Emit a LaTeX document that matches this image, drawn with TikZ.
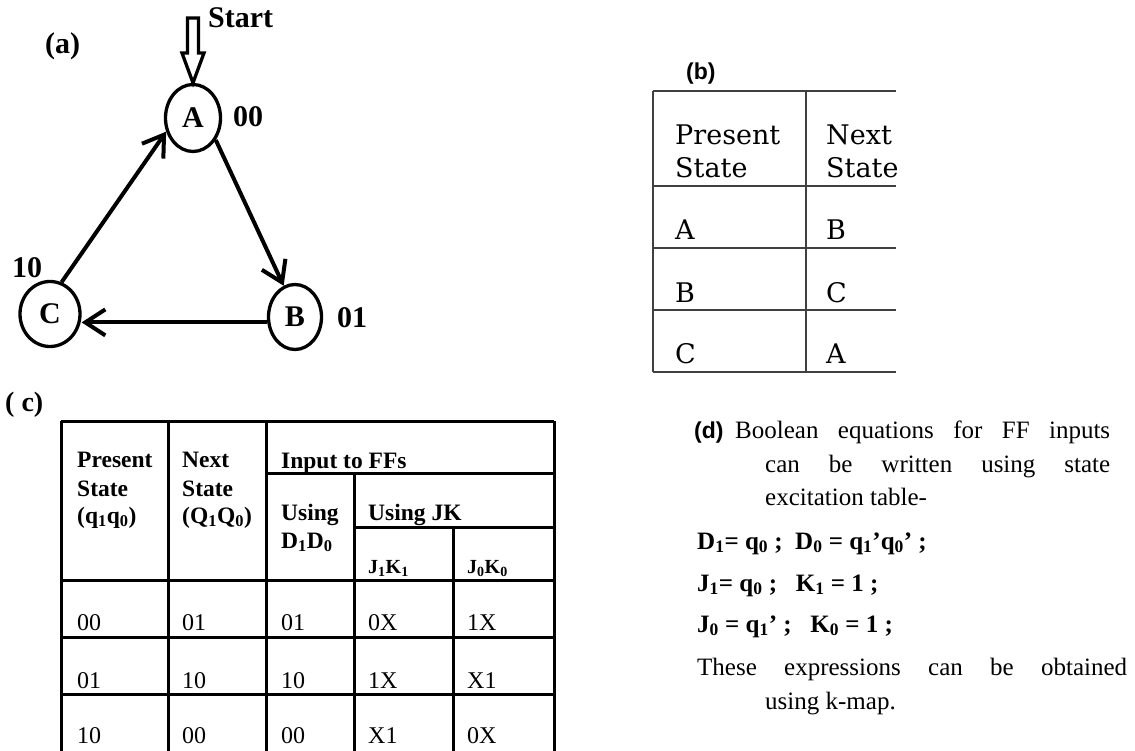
\documentclass[tikz,border=0pt]{standalone}
\usepackage{fontspec}
\setmainfont{Liberation Serif}
\newfontfamily\arialfont{Liberation Sans}
\newfontfamily\centfont{DejaVu Serif}
\usetikzlibrary{arrows.meta,shapes.geometric}

\begin{document}
\begin{tikzpicture}[x=1pt,y=-1pt,
    st/.style={draw,ellipse,line width=3.3pt,inner sep=0pt,
      font=\fontsize{30}{36}\selectfont\bfseries},
    lab/.style={anchor=base west,inner sep=0pt,
      font=\fontsize{30}{36}\selectfont\bfseries},
    tr/.style={line width=4pt,-{Straight Barb[length=20pt,width=26pt]}},
    tag/.style={anchor=base west,inner sep=0pt,
      font=\fontsize{23}{28}\selectfont\arialfont\bfseries},
    hd/.style={anchor=base west,inner sep=0pt,
      font=\fontsize{23.5}{28}\selectfont\bfseries},
    sm/.style={anchor=base west,inner sep=0pt,
      font=\fontsize{20}{24}\selectfont\bfseries},
    cell/.style={anchor=base west,inner sep=0pt,
      font=\fontsize{24}{28}\selectfont},
    tb/.style={anchor=base west,inner sep=0pt,
      font=\fontsize{27}{33}\selectfont\centfont},
    para/.style={anchor=base west,inner sep=0pt,
      font=\fontsize{25}{30}\selectfont},
    eq/.style={anchor=base west,inner sep=0pt,
      font=\fontsize{25}{30}\selectfont\bfseries}]
  \useasboundingbox (0,0) rectangle (1135,751);

  % (a) state diagram
  \node[lab] (la) at (45,54) {(a)};
  \node[st,minimum width=55pt,minimum height=67pt] (A) at (193,118) {A};
  \node[st,minimum width=53pt,minimum height=65pt] (B) at (295,317) {B};
  \node[st,minimum width=60pt,minimum height=65pt] (C) at (50,314) {C};
  \node[lab] (ca) at (233,127) {00};
  \node[lab] (cb) at (337,327) {01};
  \node[lab] (cc) at (12,278) {10};
  \node[lab] (start) at (208,28) {Start};
  \coordinate (tip) at (A.north);
  \draw[line width=3.3pt,line join=miter]
    ([xshift=-5.5pt]tip |- 0,18) -- ([xshift=-5.5pt]tip |- 0,53) -- ([xshift=-11pt]tip |- 0,53)
    -- (tip) -- ([xshift=11pt]tip |- 0,53) -- ([xshift=5.5pt]tip |- 0,53)
    -- ([xshift=5.5pt]tip |- 0,18) -- cycle;
  \draw[tr] (A.-44) -- (B.110);
  \draw[tr] (B.191) -- (C.east |- B.191);
  \draw[tr] (C.70) -- (A.207);

  % (b) state table
  \node[tag] (lb) at (686,80) {(b)};
  \draw[line width=1.3pt,black!75]
    (653,91) -- (896,91)
    (653,91) -- (653,372) (806,91) -- (806,372)
    (653,186) -- (896,186) (653,248) -- (896,248)
    (653,310) -- (896,310) (653,372) -- (896,372);
  \node[tb] (ps1) at (675,145) {Present};
  \node[tb] (ps2) at (675,178) {State};
  \node[tb] (pa) at (675,240) {A};
  \node[tb] (pb) at (675,303) {B};
  \node[tb] (pc) at (675,363) {C};
  \begin{scope}
    \clip (806,80) rectangle (896,380);
    \node[tb] (ns1) at (826,145) {Next};
    \node[tb] (ns2) at (826,178) {State};
    \node[tb] (na) at (826,240) {B};
    \node[tb] (nb) at (826,303) {C};
    \node[tb] (nc) at (826,363) {A};
  \end{scope}

  % (c) excitation table
  \node[lab,font=\fontsize{28}{34}\selectfont\bfseries] (lc) at (5,411) {( c)};
  \draw[line width=3pt]
    (61,421) -- (554,421)
    (61,421) -- (61,751) (168,421) -- (168,751)
    (266,421) -- (266,751) (554,421) -- (554,751)
    (266,473) -- (554,473) (354,473) -- (354,751)
    (354,527) -- (554,527) (453,527) -- (453,751)
    (61,580) -- (554,580) (61,637) -- (554,637) (61,694) -- (554,694);
  \node[hd] (hp1) at (77,467) {Present};
  \node[hd] (hp2) at (77,496) {State};
  \node[hd] (hp3) at (77,523) {(q\textsubscript{1}q\textsubscript{0})};
  \node[hd] (hn1) at (182,467) {Next};
  \node[hd] (hn2) at (182,496) {State};
  \node[hd] (hn3) at (182,523) {(Q\textsubscript{1}Q\textsubscript{0})};
  \node[hd] (hi) at (281,468) {Input to FFs};
  \node[hd] (hd1) at (281,520) {Using};
  \node[hd] (hd2) at (281,548) {D\textsubscript{1}D\textsubscript{0}};
  \node[hd] (hj) at (368,520) {Using JK};
  \node[sm] (hj1) at (368,573) {J\textsubscript{1}K\textsubscript{1}};
  \node[sm] (hj0) at (467,573) {J\textsubscript{0}K\textsubscript{0}};
  \foreach \y/\a/\b/\c/\d/\e [count=\i] in
      {630/00/01/01/0X/1X, 688/01/10/10/1X/X1, 743/10/00/00/X1/0X} {
    \node[cell] (r\i-a) at (77,\y) {\a};
    \node[cell] (r\i-b) at (182,\y) {\b};
    \node[cell] (r\i-c) at (281,\y) {\c};
    \node[cell] (r\i-d) at (368,\y) {\d};
    \node[cell] (r\i-e) at (467,\y) {\e};
  }

  % (d) equations
  \node[tag] (ld) at (694,438) {(d)};
  \node[para] (d1) at (735,438) {\makebox[375pt][s]{Boolean equations for FF inputs}};
  \node[para] (d2) at (765,472) {\makebox[345pt][s]{can be written using state}};
  \node[para] (d3) at (765,505) {excitation table-};
  \node[eq] (e1) at (697,549) {D\textsubscript{1}= q\textsubscript{0} ;\ \ D\textsubscript{0} = q\textsubscript{1}’q\textsubscript{0}’ ;};
  \node[eq] (e2) at (697,591) {J\textsubscript{1}= q\textsubscript{0} ;\ \ \ K\textsubscript{1} = 1 ;};
  \node[eq] (e3) at (697,632) {J\textsubscript{0} = q\textsubscript{1}’ ;\ \ \ K\textsubscript{0} = 1 ;};
  \node[para] (d4) at (697,675) {\makebox[430pt][s]{These expressions can be obtained}};
  \node[para] (d5) at (765,709) {using k-map.};
\end{tikzpicture}
\end{document}
